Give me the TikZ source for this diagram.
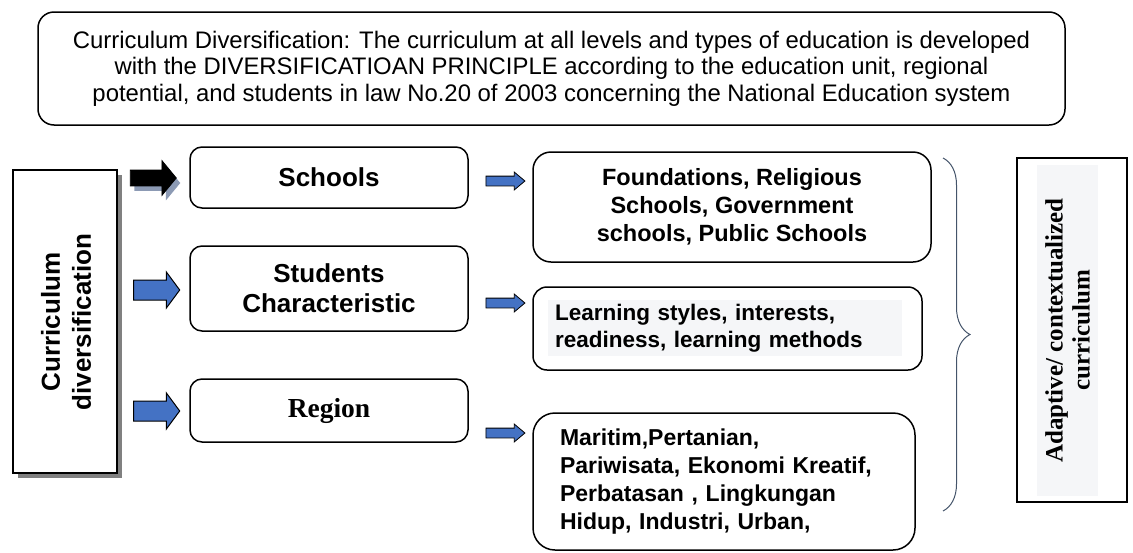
\documentclass[tikz,border=0pt]{standalone}
\usepackage{fontspec}
\setmainfont{Liberation Sans}
\newfontfamily\serifface{Liberation Serif}
\usetikzlibrary{shapes.arrows}
\usetikzlibrary{shadows}
\usetikzlibrary{decorations.pathreplacing}
\definecolor{arrowblue}{HTML}{4472C4}
\definecolor{arrowshade}{HTML}{8C9AB4}
\definecolor{bracegray}{HTML}{44546A}
\definecolor{softgray}{HTML}{F5F6F8}
\tikzset{
	topbox/.style={
		rectangle,
		rounded corners=16pt,
		draw=black,
		line width=1.5pt,
		minimum width=1027pt,
		minimum height=113pt,
		align=center,
		font=\fontsize{23.9}{26.5}\selectfont,
	},
	sidebox/.style={
		rectangle,
		draw=black,
		fill=white,
		line width=1.5pt,
		minimum width=104pt,
		minimum height=303pt,
		drop shadow={fill=gray, opacity=1, shadow xshift=5pt, shadow yshift=-5pt},
	},
	sidetext/.style={
		rotate=90,
		align=center,
		font=\bfseries\fontsize{26}{31}\selectfont,
	},
	midbox/.style={
		rectangle,
		rounded corners=12pt,
		draw=black,
		line width=1.5pt,
		minimum width=278pt,
		align=center,
		font=\bfseries\fontsize{26}{30}\selectfont,
	},
	listbox/.style={
		rectangle,
		draw=black,
		line width=1.5pt,
		font=\bfseries\fontsize{23.5}{28}\selectfont,
	},
	blackarrow/.style={
		single arrow,
		draw=black,
		fill=black,
		line width=0.8pt,
		inner xsep=0pt,
		inner ysep=7.5pt,
		single arrow head extend=9.5pt,
		single arrow tip angle=101,
		single arrow head indent=0pt,
		minimum height=46pt,
		drop shadow={fill=arrowshade, opacity=1, shadow xshift=4pt, shadow yshift=-5pt},
	},
	bluearrow/.style={
		single arrow,
		draw=black,
		fill=arrowblue,
		line width=1pt,
		inner xsep=0pt,
		inner ysep=9.5pt,
		single arrow head extend=8pt,
		single arrow tip angle=107,
		single arrow head indent=0pt,
		minimum height=46pt,
	},
	smallarrow/.style={
		single arrow,
		draw=black,
		fill=arrowblue,
		line width=0.8pt,
		inner xsep=0pt,
		inner ysep=4.5pt,
		single arrow head extend=4pt,
		single arrow tip angle=80,
		single arrow head indent=0pt,
		minimum height=39pt,
	},
}

\begin{document}
\begin{tikzpicture}[x=1pt, y=-1pt]
	\useasboundingbox (0,0) rectangle (1133,552);
	\newcommand{\colA}{329}
	\newcommand{\colB}{502.5}

	% Principle box
	\node[topbox] (principle) at (551.5,68.5) {Curriculum Diversification: The curriculum at all levels and types of education is developed\\with the DIVERSIFICATIOAN PRINCIPLE according to the education unit, regional\\potential, and students in law No.20 of 2003 concerning the National Education system};

	% Curriculum diversification box
	\node[sidebox] (cdbox) at (65,321.5) {};
	\node[sidetext] (cdtext) at (66,322) {Curriculum\\diversification};

	% Big arrows
	\node[blackarrow] (arr1) at (150,178) {};
	\node[bluearrow] (arr2) at (153,290) {};
	\node[bluearrow] (arr3) at (153,411) {};

	% Middle boxes
	\node[midbox, minimum height=61pt] (schools) at (\colA,177.5) {Schools};
	\node[midbox, minimum height=85pt] (students) at (\colA,288.5) {Students\\Characteristic};
	\node[midbox, minimum height=63pt, font=\serifface\bfseries\fontsize{27.5}{30}\selectfont] (region) at (\colA,410.5) {Region};

	% Small arrows
	\node[smallarrow] (sarr1) at (\colB,181) {};
	\node[smallarrow] (sarr2) at (\colB,303) {};
	\node[smallarrow] (sarr3) at (\colB,433) {};

	% Right boxes
	\node[listbox, rounded corners=18pt, minimum width=398pt, minimum height=110pt, align=center] (found) at (732,207) {Foundations, Religious\\Schools, Government\\schools, Public Schools};
	\node[listbox, rounded corners=14pt, minimum width=389pt, minimum height=83pt] (learnbox) at (727.5,328.5) {};
	\node[fill=softgray, inner xsep=7pt, inner ysep=0pt, minimum height=56pt, text width=340pt, align=left, font=\bfseries\fontsize{22.5}{26.5}\selectfont] (learntext) at (725,328) {Learning styles, interests,\\readiness, learning methods};
	\node[listbox, rounded corners=22pt, inner xsep=27pt, text width=328pt, minimum height=137pt, align=left, font=\bfseries\fontsize{23}{28}\selectfont] (maritim) at (724,481.5) {Maritim,Pertanian,\\Pariwisata, Ekonomi Kreatif,\\Perbatasan , Lingkungan\\Hidup, Industri, Urban,};

	% Brace
	\coordinate (bracetop) at (943,158);
	\coordinate (bracebot) at (943,511);
	\draw[bracegray, line width=1pt, decorate, decoration={brace, amplitude=27pt}] (bracetop) -- (bracebot);

	% Adaptive curriculum box
	\node[rectangle, draw=black, line width=1.5pt, minimum width=110pt, minimum height=344pt] (adbox) at (1072,330) {};
	\node[rotate=90, fill=softgray, minimum width=331pt, minimum height=61pt, align=center, font=\serifface\bfseries\fontsize{25}{27}\selectfont] (adtext) at (1067.5,330.5) {Adaptive/ contextualized\\curriculum};
\end{tikzpicture}
\end{document}
